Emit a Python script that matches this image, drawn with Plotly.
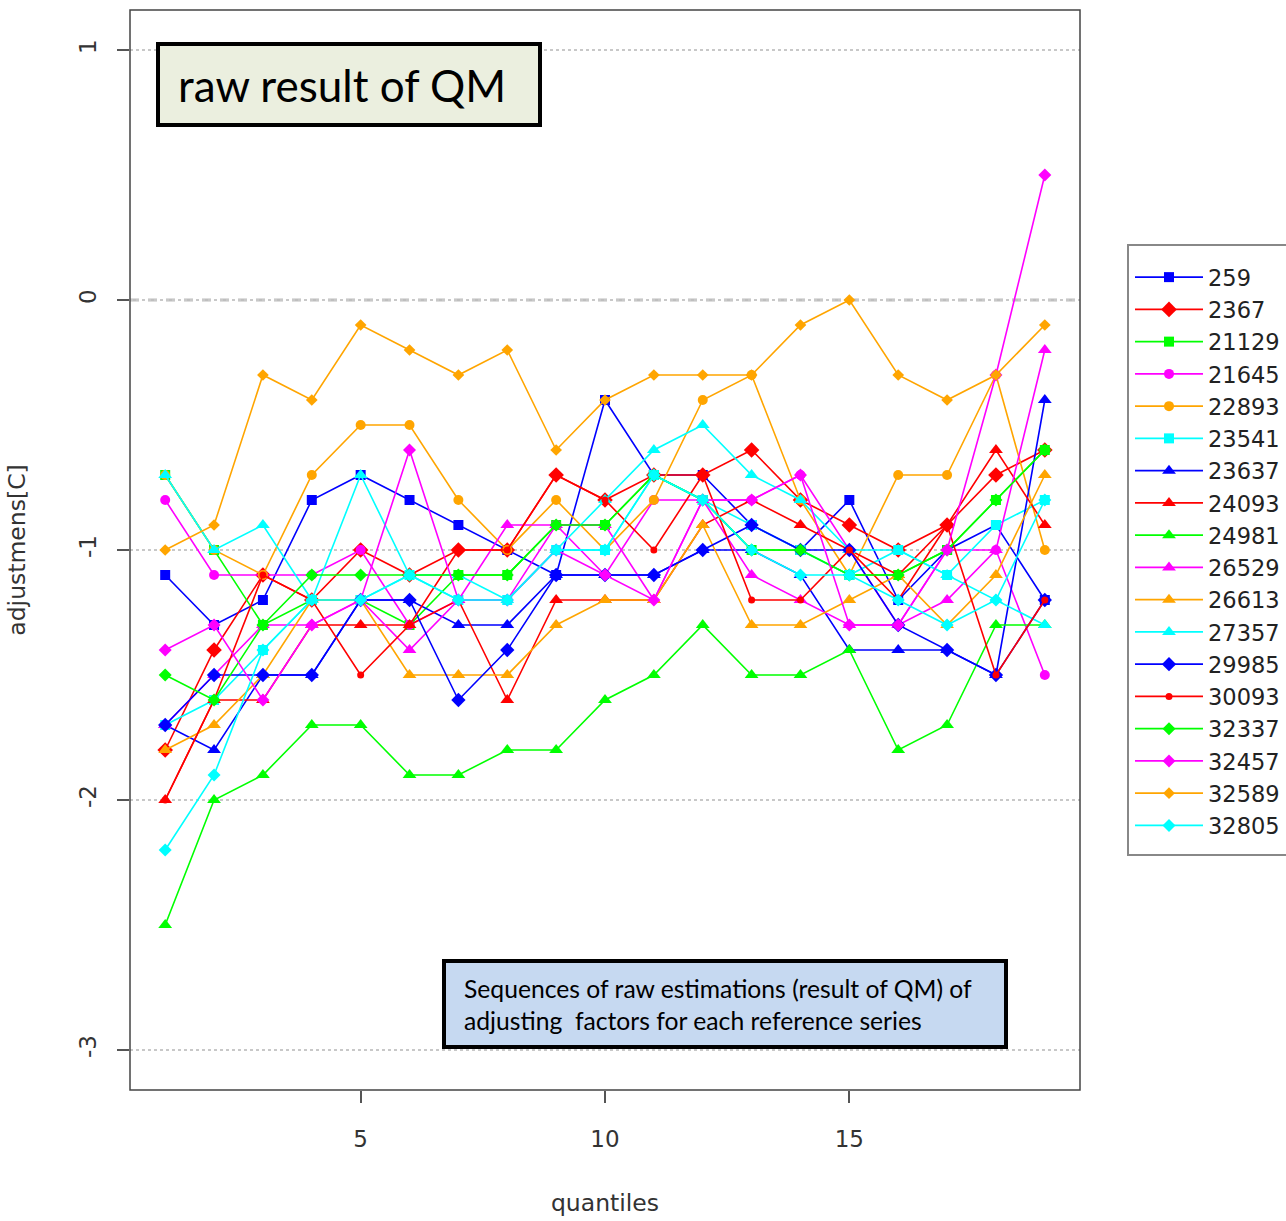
import plotly.graph_objects as go

# quantile index on the x axis
quantiles = list(range(1, 20))

# station identifiers (one line per reference series)
stations = ["259", "2367", "21129", "21645", "22893", "23541", "23637", "24093", "24981",
            "26529", "26613", "27357", "29985", "30093", "32337", "32457", "32589", "32805"]

# adjustment estimates per station, one value per quantile
s259   = [-1.1, -1.3, -1.2, -0.8, -0.7, -0.8, -0.9, -1.0, -1.1, -0.4, -0.7, -0.7, -0.9, -1.0, -0.8, -1.2, -1.0, -0.9, -1.2]
s2367  = [-1.8, -1.4, -1.1, -1.2, -1.0, -1.1, -1.0, -1.0, -0.7, -0.8, -0.7, -0.7, -0.6, -0.8, -0.9, -1.0, -0.9, -0.7, -0.6]
s21129 = [-0.7, -1.0, -1.3, -1.2, -1.2, -1.3, -1.1, -1.1, -0.9, -0.9, -0.7, -0.8, -1.0, -1.0, -1.1, -1.1, -1.0, -0.8, -0.6]
s21645 = [-0.8, -1.1, -1.1, -1.1, -1.0, -1.3, -1.2, -1.2, -0.9, -1.1, -0.8, -0.8, -0.8, -0.7, -1.0, -1.3, -1.0, -1.0, -1.5]
s22893 = [-0.7, -1.0, -1.1, -0.7, -0.5, -0.5, -0.8, -1.0, -0.8, -1.0, -0.8, -0.4, -0.3, -0.8, -1.1, -0.7, -0.7, -0.3, -1.0]
s23541 = [-1.7, -1.6, -1.4, -1.2, -1.2, -1.1, -1.2, -1.2, -1.0, -1.0, -0.7, -0.8, -0.9, -1.0, -1.1, -1.0, -1.1, -0.9, -0.8]
s23637 = [-1.7, -1.8, -1.5, -1.5, -1.2, -1.2, -1.3, -1.3, -1.1, -1.1, -1.1, -1.0, -1.0, -1.1, -1.4, -1.4, -1.4, -1.5, -0.4]
s24093 = [-2.0, -1.6, -1.6, -1.3, -1.3, -1.3, -1.2, -1.6, -1.2, -1.2, -1.2, -0.9, -0.8, -0.9, -1.0, -1.1, -0.9, -0.6, -0.9]
s24981 = [-2.5, -2.0, -1.9, -1.7, -1.7, -1.9, -1.9, -1.8, -1.8, -1.6, -1.5, -1.3, -1.5, -1.5, -1.4, -1.8, -1.7, -1.3, -1.3]
s26529 = [-1.7, -1.5, -1.3, -1.3, -1.2, -1.4, -1.2, -0.9, -0.9, -0.9, -1.2, -0.8, -1.1, -1.2, -1.3, -1.3, -1.2, -1.0, -0.2]
s26613 = [-1.8, -1.7, -1.5, -1.2, -1.2, -1.5, -1.5, -1.5, -1.3, -1.2, -1.2, -0.9, -1.3, -1.3, -1.2, -1.1, -1.3, -1.1, -0.7]
s27357 = [-0.7, -1.0, -0.9, -1.2, -0.7, -1.1, -1.1, -1.2, -1.0, -0.8, -0.6, -0.5, -0.7, -0.8, -1.0, -1.0, -1.1, -1.2, -1.3]
s29985 = [-1.7, -1.5, -1.5, -1.5, -1.2, -1.2, -1.6, -1.4, -1.1, -1.1, -1.1, -1.0, -0.9, -1.0, -1.0, -1.3, -1.4, -1.5, -1.2]
s30093 = [-2.0, -1.6, -1.1, -1.2, -1.5, -1.3, -1.0, -1.0, -0.7, -0.8, -1.0, -0.7, -1.2, -1.2, -1.0, -1.2, -0.9, -1.5, -1.2]
s32337 = [-1.5, -1.6, -1.3, -1.1, -1.1, -1.1, -1.1, -1.1, -0.9, -0.9, -0.7, -0.8, -1.0, -1.0, -1.1, -1.1, -1.0, -0.8, -0.6]
s32457 = [-1.4, -1.3, -1.6, -1.3, -1.2, -0.6, -1.2, -1.2, -1.0, -1.1, -1.2, -0.8, -0.8, -0.7, -1.3, -1.3, -1.0, -0.3, 0.5]
s32589 = [-1.0, -0.9, -0.3, -0.4, -0.1, -0.2, -0.3, -0.2, -0.6, -0.4, -0.3, -0.3, -0.3, -0.1, 0.0, -0.3, -0.4, -0.3, -0.1]
s32805 = [-2.2, -1.9, -1.4, -1.2, -1.2, -1.1, -1.2, -1.2, -1.0, -1.0, -0.7, -0.8, -1.0, -1.1, -1.1, -1.2, -1.3, -1.2, -0.8]

series = [s259, s2367, s21129, s21645, s22893, s23541, s23637, s24093, s24981,
          s26529, s26613, s27357, s29985, s30093, s32337, s32457, s32589, s32805]

# colour and plotting symbol per station
colors = ["#0000FF", "#FF0000", "#00FF00", "#FF00FF", "#FFA500", "#00FFFF"] * 3
symbols = ["square", "diamond", "square", "circle", "circle", "square",
           "triangle-up", "triangle-up", "triangle-up", "triangle-up", "triangle-up", "triangle-up",
           "diamond", "circle", "diamond", "diamond", "diamond", "diamond"]
sizes = [10, 12, 10, 10, 10, 10,
         12, 12, 12, 12, 12, 12,
         11, 7, 10, 10, 9, 10]

fig = go.Figure()
for name, vals, col, sym, sz in zip(stations, series, colors, symbols, sizes):
    fig.add_trace(go.Scatter(
        x=quantiles, y=vals, name=name, mode="lines+markers",
        line=dict(color=col, width=1.6),
        marker=dict(color=col, symbol=sym, size=sz, line=dict(width=0)),
    ))

W, H = 1286, 1221
L, R, T, B = 130, 206, 10, 131
pw, ph = W - L - R, H - T - B


def px(x):
    return (x - L) / pw


def py(y):
    return (H - B - y) / ph


font_main = "DejaVu Sans, Verdana, sans-serif"
font_note = "Lato, Open Sans, sans-serif"

shapes = [
    # dashed reference line at zero
    dict(type="line", xref="paper", yref="y", x0=0, x1=1, y0=0, y1=0,
         line=dict(color="#BEBEBE", width=3, dash="dash"), layer="below"),
    # plot frame
    dict(type="rect", xref="paper", yref="paper", x0=0, y0=0, x1=1, y1=1,
         line=dict(color="#444444", width=1.5)),
    # legend frame
    dict(type="rect", xref="paper", yref="paper", x0=px(1128), x1=px(1300), y0=py(855), y1=py(245),
         line=dict(color="#888888", width=2)),
    # title note box
    dict(type="rect", xref="paper", yref="paper", x0=px(158), x1=px(540), y0=py(125), y1=py(44),
         fillcolor="#EBEFDF", line=dict(color="black", width=4)),
    # description note box
    dict(type="rect", xref="paper", yref="paper", x0=px(444), x1=px(1006), y0=py(1047), y1=py(961),
         fillcolor="#C6D9F1", line=dict(color="black", width=4)),
]

annotations = [
    dict(xref="paper", yref="paper", x=px(176), y=py(85), xanchor="left", yanchor="middle",
         text="raw result of QM", showarrow=False,
         font=dict(family=font_note, size=44, color="black")),
    dict(xref="paper", yref="paper", x=px(462), y=py(1004), xanchor="left", yanchor="middle",
         text="Sequences of raw estimations (result of QM) of<br>adjusting  factors for each reference series",
         align="left", showarrow=False,
         font=dict(family=font_note, size=24.7, color="black")),
]

fig.update_layout(
    width=W, height=H,
    margin=dict(l=L, r=R, t=T, b=B, autoexpand=False),
    plot_bgcolor="white", paper_bgcolor="white",
    font=dict(family=font_main, size=23, color="#333333"),
    showlegend=True,
    legend=dict(
        x=px(1130), y=py(256), xanchor="left", yanchor="top",
        borderwidth=0, bgcolor="rgba(0,0,0,0)",
        font=dict(family=font_main, size=22.5, color="#222222"),
        tracegroupgap=0, itemwidth=68,
    ),
    shapes=shapes,
    annotations=annotations,
)

fig.update_xaxes(
    range=[0.28, 19.72], tickvals=[5, 10, 15], ticks="outside", ticklen=12,
    tickcolor="#555555", tickwidth=1.5, showgrid=False, zeroline=False, showline=False,
    ticklabelstandoff=16,
    title=dict(text="quantiles", font=dict(family=font_main, size=23.5, color="#333333"), standoff=43),
    tickfont=dict(family=font_main, size=23, color="#333333"),
)
fig.update_yaxes(
    range=[-3.16, 1.16], tickvals=[-3, -2, -1, 0, 1], ticktext=["-3", "-2", "-1", "0", "1"],
    ticks="outside", ticklen=12, tickcolor="#555555", tickwidth=1.5, tickangle=-90,
    ticklabelstandoff=12,
    showgrid=True, gridcolor="#C8C8C8", griddash="dot", gridwidth=1.5,
    zeroline=False, showline=False,
    title=dict(text="adjustmens[C]", font=dict(family=font_main, size=23.5, color="#333333"), standoff=42),
    tickfont=dict(family=font_main, size=23, color="#333333"),
)

fig.write_html("out.html")
